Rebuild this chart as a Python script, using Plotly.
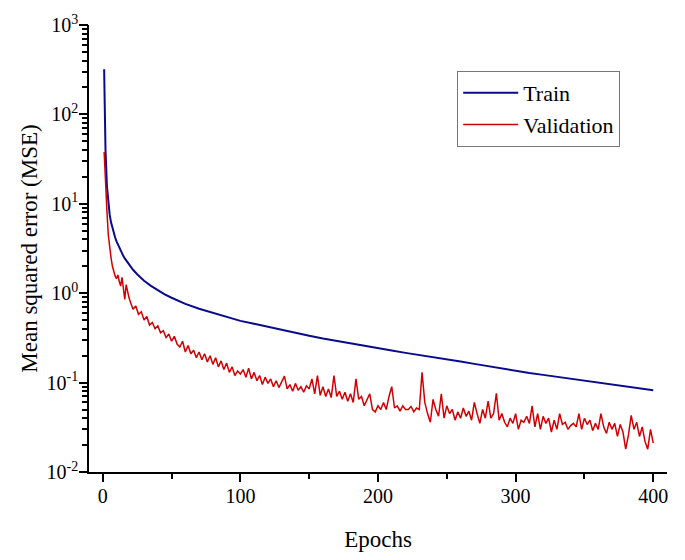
import plotly.graph_objects as go

train_epochs = list(range(1, 21)) + [22, 25, 30, 35, 40, 45, 50, 55, 60, 70, 80, 90, 100, 110, 120, 130,
                                      140, 150, 160, 170, 180, 190, 200, 210, 220, 230, 240, 250, 260,
                                      270, 280, 290, 300, 310, 320, 330, 340, 350, 360, 370, 380, 390, 400]
train_mse = [320, 40, 16, 10.5, 7.6, 6.2, 5.3, 4.7, 4.2, 3.8, 3.5, 3.2, 3.0, 2.8, 2.6, 2.45, 2.32, 2.2, 2.1, 2.0,
             1.83, 1.63, 1.38, 1.21, 1.08, 0.97, 0.89, 0.82, 0.76, 0.67, 0.6, 0.54, 0.49, 0.455, 0.42, 0.388,
             0.36, 0.335, 0.312, 0.292, 0.274, 0.257, 0.242, 0.228, 0.215, 0.204, 0.193, 0.182, 0.172,
             0.162, 0.152, 0.143, 0.135, 0.128, 0.122, 0.116, 0.11, 0.104, 0.099, 0.094, 0.09, 0.086, 0.082]

val_epochs = list(range(1, 21)) + list(range(22, 401, 2))
val_mse = [38, 14, 8.5, 4.5, 3.2, 2.5, 2.0, 1.75, 1.55, 1.45, 1.6, 1.35, 1.2, 1.5, 1.1, 0.85, 1.25, 1.0, 0.9, 0.8,
           0.66, 0.72, 0.58, 0.62, 0.50, 0.55, 0.44, 0.47, 0.40, 0.43,
           0.36, 0.38, 0.32, 0.35, 0.29, 0.33, 0.27, 0.25, 0.29, 0.22,
           0.26, 0.21, 0.23, 0.19, 0.22, 0.18, 0.21, 0.17, 0.20, 0.16,
           0.19, 0.15, 0.175, 0.14, 0.165, 0.13, 0.15, 0.12, 0.135, 0.125,
           0.14, 0.115, 0.145, 0.11, 0.13, 0.105, 0.12, 0.095, 0.115, 0.098,
           0.11, 0.09, 0.105, 0.088, 0.10, 0.118, 0.085, 0.095, 0.08, 0.098,
           0.082, 0.09, 0.078, 0.092, 0.085, 0.11, 0.075, 0.12, 0.072, 0.09,
           0.07, 0.085, 0.068, 0.12, 0.07, 0.08, 0.065, 0.078, 0.062, 0.075,
           0.06, 0.11, 0.065, 0.07, 0.055, 0.065, 0.075, 0.05, 0.047, 0.055,
           0.05, 0.06, 0.05, 0.07, 0.09, 0.052, 0.055, 0.048, 0.055, 0.05,
           0.05, 0.054, 0.047, 0.052, 0.05, 0.13, 0.06, 0.045, 0.036, 0.065,
           0.05, 0.042, 0.075, 0.04, 0.055, 0.045, 0.05, 0.038, 0.047, 0.04,
           0.052, 0.042, 0.048, 0.038, 0.06, 0.045, 0.035, 0.05, 0.04, 0.062,
           0.04, 0.045, 0.076, 0.038, 0.045, 0.036, 0.032, 0.04, 0.035, 0.045,
           0.03, 0.038, 0.036, 0.042, 0.035, 0.055, 0.032, 0.045, 0.03, 0.042,
           0.035, 0.04, 0.028, 0.038, 0.03, 0.045, 0.034, 0.036, 0.03, 0.033,
           0.035, 0.032, 0.045, 0.03, 0.04, 0.034, 0.038, 0.029, 0.035, 0.03,
           0.045, 0.032, 0.027, 0.036, 0.03, 0.035, 0.025, 0.034, 0.028, 0.018,
           0.026, 0.043, 0.03, 0.036, 0.025, 0.032, 0.022, 0.018, 0.03, 0.021]

x_ticks = [0, 100, 200, 300, 400]
x_minor = [50, 150, 250, 350]
y_ticks = [0.01, 0.1, 1, 10, 100, 1000]
y_tick_labels = ["10<sup>-2</sup>", "10<sup>-1</sup>", "10<sup>0</sup>",
                 "10<sup>1</sup>", "10<sup>2</sup>", "10<sup>3</sup>"]
y_minor = [m * d for d in [0.01, 0.1, 1, 10, 100] for m in range(2, 10)]

x_all = sorted(x_ticks + x_minor)
x_all_text = [str(v) if v in x_ticks else "" for v in x_all]
y_all = sorted(y_ticks + y_minor)
y_all_text = [y_tick_labels[y_ticks.index(v)] if v in y_ticks else " " for v in y_all]

font = "Liberation Serif, Times New Roman, serif"
x_range = [-10, 410]
y_range = [-2, 3]

fig = go.Figure()
fig.add_trace(go.Scatter(x=train_epochs, y=train_mse, mode="lines", name="Train",
                         line=dict(color="#0a0a8c", width=2)))
fig.add_trace(go.Scatter(x=val_epochs, y=val_mse, mode="lines", name="Validation",
                         line=dict(color="#d00000", width=1.5)))
fig.add_trace(go.Scatter(x=[x_ticks[1]], y=[y_ticks[2]], xaxis="x2", yaxis="y2", mode="markers",
                         marker=dict(opacity=0), showlegend=False, hoverinfo="skip"))

fig.update_layout(
    width=685, height=560,
    margin=dict(l=89, r=18, t=17, b=78),
    paper_bgcolor="white", plot_bgcolor="white",
    font=dict(family=font, size=20, color="black"),
    showlegend=True,
    legend=dict(x=0.637, y=0.897, xanchor="left", yanchor="top",
                bordercolor="#777777", borderwidth=1, bgcolor="white",
                font=dict(size=22, family=font), tracegroupgap=0, itemwidth=55),
    xaxis=dict(
        range=x_range, tickmode="array", tickvals=x_all, ticktext=x_all_text,
        showgrid=False, zeroline=False, showline=True, linecolor="black", linewidth=1.5,
        ticks="outside", ticklen=5, tickwidth=1.5, tickcolor="black",
        tickfont=dict(size=20, family=font),
        title=dict(text="Epochs", font=dict(size=23, family=font), standoff=25),
    ),
    yaxis=dict(
        type="log", range=y_range, tickmode="array", tickvals=y_all, ticktext=y_all_text,
        showgrid=False, zeroline=False, showline=True, linecolor="black", linewidth=1.5,
        ticks="outside", ticklen=5, tickwidth=1.5, tickcolor="black",
        tickfont=dict(size=20, family=font),
        title=dict(text="Mean squared error (MSE)", font=dict(size=23, family=font), standoff=3),
    ),
    xaxis2=dict(
        overlaying="x", anchor="y2", side="bottom", range=x_range, tickvals=x_ticks,
        showticklabels=False, showgrid=False, zeroline=False, showline=False,
        ticks="outside", ticklen=9, tickwidth=1.5, tickcolor="black",
    ),
    yaxis2=dict(
        overlaying="y", anchor="x2", side="left", type="log", range=y_range, tickvals=y_ticks,
        showticklabels=False, showgrid=False, zeroline=False, showline=False,
        ticks="outside", ticklen=9, tickwidth=1.5, tickcolor="black",
    ),
)

fig.write_html("out.html")
